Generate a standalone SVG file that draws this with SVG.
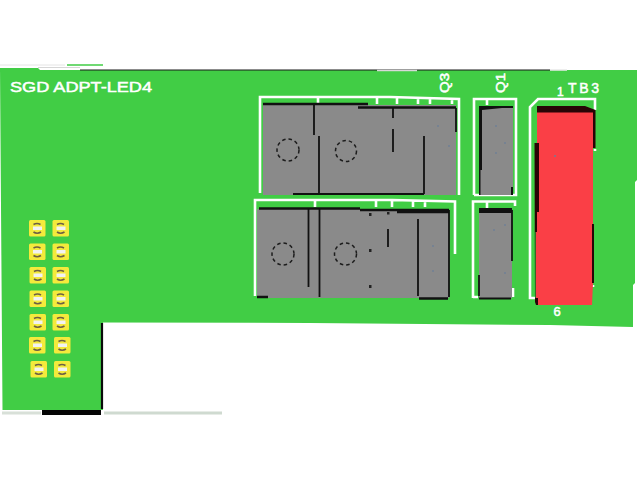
<svg xmlns="http://www.w3.org/2000/svg" width="640" height="480" viewBox="0 0 640 480">
<defs>
<style>
.silk{fill:none;stroke:#fff;stroke-width:2.6}
.blk{fill:none;stroke:#111;stroke-width:1.8}
.thick{fill:none;stroke:#111;stroke-width:2.6}
.gray{fill:#8a8a8a}
.dots{fill:none;stroke:#1c1c1c;stroke-width:1.500;stroke-dasharray:3.500 3}
.t{font-family:"Liberation Sans",Arial,sans-serif;fill:#fff;stroke:#fff;stroke-width:.5}
.pad{fill:#f4ea3c}
.pw{fill:#f2f2f2}
.pd{fill:none;stroke:#6d5f45;stroke-width:1.6}
.via{fill:#6f7f95}
.dk{fill:#280406}
</style>
<g id="pad">
<rect class="pad" x="0" y="0" width="16.500" height="16.500" rx="1.500"/>
<rect class="pw" x="4" y="6.500" width="9" height="3.500"/>
<path class="pd" d="M4.500 4.500Q8 2.500 11.500 4.500M4.500 12Q8 14.500 12 12"/>
</g>
</defs>
<path d="M0 65H65" stroke="#e4e4e4" stroke-width="1" fill="none"/>
<path d="M67 65H103" stroke="#41cd45" stroke-width="1.500" fill="none"/>
<path d="M38 67.500H80" stroke="#d6d6d6" stroke-width="1" fill="none"/>
<path d="M0 68H38L40 70H637V180L635 182V283L633 285V327L550 325L310 323L103 322.500V410H2.500Z" fill="#41cd45"/>
<path d="M80 70H550" stroke="#1a1a1a" stroke-width="1.200" fill="none"/>
<path d="M377 70.500H417" stroke="#d8d8d8" stroke-width="1.500" fill="none"/>
<path d="M550 70H567" stroke="#e8e8e8" stroke-width="1.500" fill="none"/>
<path d="M102 323V409" stroke="#0a0a0a" stroke-width="2.200" fill="none"/>
<path d="M42 412.500H101" stroke="#050505" stroke-width="5"/>
<path d="M104 413H222" stroke="#cfdad0" stroke-width="3"/>
<path d="M2 413H41" stroke="#d8e0d8" stroke-width="3"/>
<text class="t" x="10" y="92" font-size="15.500" textLength="142" lengthAdjust="spacingAndGlyphs">SGD ADPT-LED4</text>
<g id="Q3">
<path class="silk" d="M260 193V97H390L459 99V195M318 97V104M377 98V104M397 98V104M418 98V104M430 98V104M452 98V104"/>
<rect class="gray" x="263" y="105" width="193" height="90"/>
<path class="thick" d="M263 104H368M358 107.500H456"/>
<path class="blk" d="M314 105V135M319 136V194M393 108V118M393 129V152M424 136V194M293 194H424M456 108V132"/>
<circle class="dots" cx="288" cy="150" r="11"/>
<circle class="dots" cx="346" cy="151" r="10.500"/>
<circle class="via" cx="438" cy="126" r="1"/><circle class="via" cx="449" cy="146" r="1"/>
</g>
<g id="Q2">
<path class="silk" d="M255 296V200H392L455 201.500V254M315 200V207M376 201V207M392 201V207M413 201V207M425 201V207"/>
<rect class="gray" x="257" y="209" width="192" height="89"/>
<path class="thick" d="M259 208.500H360M360 210H449M397 212H449M257 297H268M419 298.500H448"/>
<path class="blk" d="M308.500 209V287M319.500 209V297M388 229V247M418 219V296M449 210V297"/>
<rect x="369" y="213" width="2.500" height="3" fill="#222"/><rect x="369" y="249" width="2.500" height="3" fill="#222"/><rect x="369" y="285" width="2.500" height="3" fill="#222"/><rect x="387" y="212" width="2.500" height="2.500" fill="#222"/>
<circle class="dots" cx="283" cy="254" r="11"/>
<circle class="dots" cx="345.500" cy="254" r="11"/>
<circle class="via" cx="433" cy="246" r="1"/><circle class="via" cx="433" cy="271" r="1"/>
</g>
<text class="t" transform="translate(449 93) rotate(-90)" font-size="12" textLength="20" lengthAdjust="spacingAndGlyphs">Q3</text>
<g id="Q1a">
<path class="silk" d="M474 195V99H516V195H474M487 99V105"/>
<rect class="gray" x="480" y="107" width="33" height="88"/>
<path d="M479 106H513V108H502L482 110V170H480.500V195H479Z" fill="#111"/>
<path d="M511 187H513V195H511Z" fill="#111"/>
<circle class="via" cx="496" cy="126" r="1"/><circle class="via" cx="505" cy="143" r="1"/><circle class="via" cx="496" cy="153" r="1"/>
</g>
<g id="Q1b">
<path class="silk" d="M473 298V201.500H515V206M487 202V208M473 297H478M513 288V297"/>
<rect class="gray" x="479" y="210" width="33" height="88"/>
<path d="M479 208H512V213H479Z" fill="#111"/>
<path d="M479 298.500H511M512 210V261M479 275V296" stroke="#111" stroke-width="1.800" fill="none"/>
<circle class="via" cx="494" cy="230" r="1"/><circle class="via" cx="505" cy="225" r="1"/><circle class="via" cx="505" cy="273" r="1"/>
</g>
<text class="t" transform="translate(505 93) rotate(-90)" font-size="12" textLength="20" lengthAdjust="spacingAndGlyphs">Q1</text>
<g id="TB3">
<path class="silk" d="M535 298H530V107L538 99H595V110M595 149V151M593 285V287"/>
<path d="M537 112H593V283L592 305H536V232L537 212Z" fill="#fa3f46"/>
<path class="dk" d="M537 106H585L595.500 110V148H593V112.500H537Z"/>
<path class="dk" d="M534.500 143H539V212H537V232H535.500V298H538V305H536L535 302Z"/>
<path class="dk" d="M592 224H594V283H592Z"/>
<circle class="via" cx="555" cy="156" r="1"/>
</g>
<text class="t" x="557" y="96" font-size="12">1</text>
<text class="t" x="568" y="93" font-size="14" textLength="31" lengthAdjust="spacing">TB3</text>
<text class="t" x="553.500" y="316" font-size="13">6</text>
<g id="J1">
<use href="#pad" x="29" y="220"/><use href="#pad" x="52.500" y="220"/>
<use href="#pad" x="29" y="243.500"/><use href="#pad" x="52.500" y="243.500"/>
<use href="#pad" x="29.500" y="267"/><use href="#pad" x="52.500" y="267"/>
<use href="#pad" x="29.500" y="290.500"/><use href="#pad" x="52.500" y="290.500"/>
<use href="#pad" x="29.500" y="314"/><use href="#pad" x="52.500" y="314"/>
<use href="#pad" x="29" y="337"/><use href="#pad" x="54" y="337"/>
<use href="#pad" x="30.500" y="361"/><use href="#pad" x="54" y="361"/>
</g>
</svg>
